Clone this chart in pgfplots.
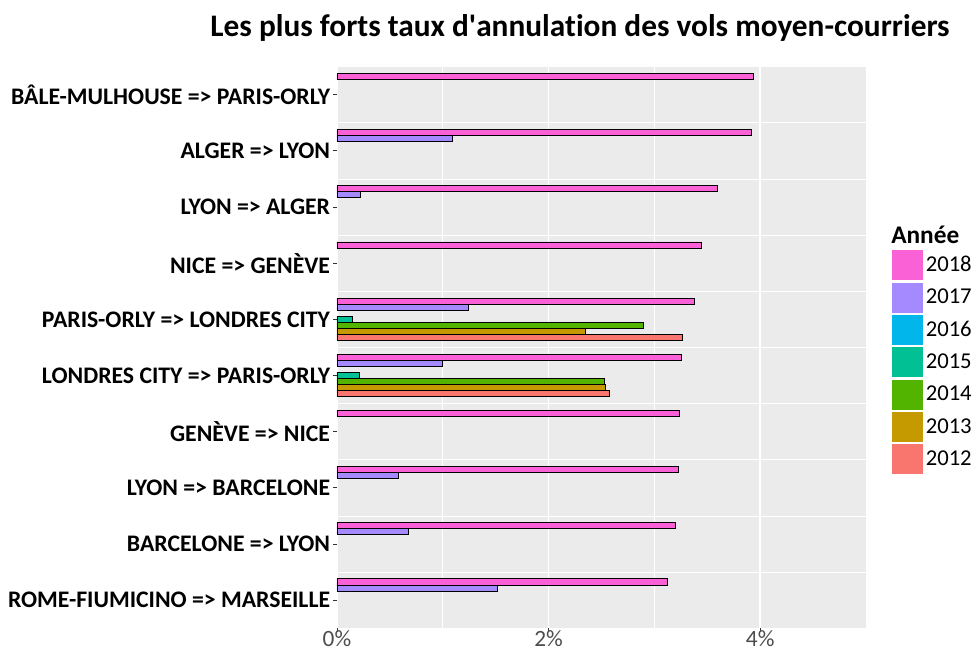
\documentclass[border=0pt]{standalone}
\usepackage{fontspec}
\setmainfont{Carlito}[Ligatures={NoCommon}]
\usepackage{pgfplots}
\pgfplotsset{compat=1.18}
\definecolor{c2018}{HTML}{FB61D7}
\definecolor{c2017}{HTML}{A58AFF}
\definecolor{c2016}{HTML}{00B6EB}
\definecolor{c2015}{HTML}{00C094}
\definecolor{c2014}{HTML}{53B400}
\definecolor{c2013}{HTML}{C49A00}
\definecolor{c2012}{HTML}{F8766D}
\definecolor{bggray}{HTML}{EBEBEB}
\definecolor{tickgray}{HTML}{4D4D4D}
\definecolor{tickmark}{HTML}{333333}
\begin{document}
\begin{tikzpicture}
\path[use as bounding box] (-252.75pt,-18.5pt) rectangle (479.25pt,471.2pt);
\begin{axis}[
  at={(0,0)}, anchor=south west,
  scale only axis, width=396.75pt, height=421.2pt,
  xmin=0, xmax=5, ymin=-0.5, ymax=9.5,
  axis background/.style={fill=bggray},
  axis line style={draw=none},
  xtick={0,2,4}, xticklabels={0\%,2\%,4\%},
  minor xtick={1,3,5},
  ytick={0,...,9},
  minor ytick={-0.5,0.5,...,9.5},
  yticklabels={ROME-FIUMICINO => MARSEILLE, BARCELONE => LYON, LYON => BARCELONE, GENÈVE => NICE, LONDRES CITY => PARIS-ORLY, PARIS-ORLY => LONDRES CITY, NICE => GENÈVE, LYON => ALGER, ALGER => LYON, BÂLE-MULHOUSE => PARIS-ORLY},
  xmajorgrids, xminorgrids, yminorgrids,
  major grid style={white, line width=1.1pt},
  minor grid style={white, line width=0.55pt},
  tick align=outside,
  major tick length=3pt, minor tick length=0pt,
  tick style={tickmark, line width=0.6pt},
  xtick pos=bottom, ytick pos=left,
  xticklabel style={font=\fontsize{17.5}{20}\selectfont, text=tickgray, inner sep=0pt, yshift=1.5pt},
  yticklabel style={font=\fontsize{17.8}{20}\selectfont\bfseries, text=black, inner sep=1pt, xshift=-1pt},
  xbar, bar width=0.108,
  every axis plot/.append style={draw=black, line width=0.7pt},
  legend style={at={(rel axis cs:1.049,0.6736)}, anchor=north west, draw=none, fill=none, inner sep=0pt,
    font=\fontsize{17}{19}\selectfont, row sep=1.75pt, column sep=2pt,
    nodes={inner sep=0pt}},
  legend cell align=left,
  clip=false,
]
\addplot[fill=c2018, bar shift=0.324, forget plot] coordinates {(3.935,9) (3.92,8) (3.598,7) (3.447,6) (3.377,5) (3.258,4) (3.236,3) (3.226,2) (3.201,1) (3.122,0)};
\addplot[fill=c2017, bar shift=0.216, forget plot] coordinates {(1.094,8) (0.22,7) (1.238,5) (0.999,4) (0.577,2) (0.674,1) (1.519,0)};
\addplot[fill=c2015, bar shift=0, forget plot] coordinates {(0.142,5) (0.217,4)};
\addplot[fill=c2014, bar shift=-0.108, forget plot] coordinates {(2.899,5) (2.527,4)};
\addplot[fill=c2013, bar shift=-0.216, forget plot] coordinates {(2.347,5) (2.536,4)};
\addplot[fill=c2012, bar shift=-0.324, forget plot] coordinates {(3.264,5) (2.571,4)};
\addlegendimage{legend image code/.code={\fill[c2018] (0pt,-10.9pt) rectangle (22.5pt,10.9pt);}}
\addlegendentry{2018}
\addlegendimage{legend image code/.code={\fill[c2017] (0pt,-10.9pt) rectangle (22.5pt,10.9pt);}}
\addlegendentry{2017}
\addlegendimage{legend image code/.code={\fill[c2016] (0pt,-10.9pt) rectangle (22.5pt,10.9pt);}}
\addlegendentry{2016}
\addlegendimage{legend image code/.code={\fill[c2015] (0pt,-10.9pt) rectangle (22.5pt,10.9pt);}}
\addlegendentry{2015}
\addlegendimage{legend image code/.code={\fill[c2014] (0pt,-10.9pt) rectangle (22.5pt,10.9pt);}}
\addlegendentry{2014}
\addlegendimage{legend image code/.code={\fill[c2013] (0pt,-10.9pt) rectangle (22.5pt,10.9pt);}}
\addlegendentry{2013}
\addlegendimage{legend image code/.code={\fill[c2012] (0pt,-10.9pt) rectangle (22.5pt,10.9pt);}}
\addlegendentry{2012}
\end{axis}
\node[font=\fontsize{23.5}{28}\selectfont\bfseries, inner sep=0pt] at (182.25pt,450.2pt) {Les plus forts taux d\textquotesingle annulation des vols moyen-courriers};
\node[font=\fontsize{19}{22}\selectfont\bfseries, anchor=west, inner sep=0pt] at (415.5pt,295pt) {Année};
\end{tikzpicture}
\end{document}
